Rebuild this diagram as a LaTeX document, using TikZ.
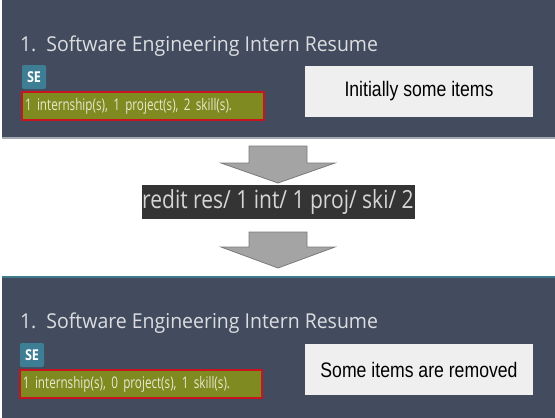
\documentclass[tikz,border=0pt]{standalone}
\usepackage{fontspec}
\usetikzlibrary{positioning,calc}
\newfontfamily\uifont[FakeStretch=0.84]{Open Sans}
\newfontfamily\titlefont[FakeStretch=0.95]{Open Sans}
\newfontfamily\countfont[FakeStretch=0.73]{Open Sans}
\newfontfamily\notefont[FakeStretch=0.84]{Liberation Sans}
\definecolor{panelbg}{HTML}{434C5E}
\definecolor{panelrim}{HTML}{A4A9B2}
\definecolor{paneltop}{HTML}{3D7A8C}
\definecolor{titlefg}{HTML}{DCDDE0}
\definecolor{tagbg}{HTML}{3E7E94}
\definecolor{countbg}{HTML}{7F8A20}
\definecolor{countfg}{HTML}{E8E8D0}
\definecolor{countrim}{HTML}{C8141E}
\definecolor{notebg}{HTML}{EFEFEF}
\definecolor{cmdbg}{HTML}{343434}
\definecolor{cmdfg}{HTML}{D6D6D6}
\definecolor{arrowbg}{HTML}{A4A4A4}
\definecolor{arrowrim}{HTML}{7A7A7A}

\begin{document}
\begin{tikzpicture}[x=1pt,y=-1pt,
    every node/.style={inner sep=0pt,outer sep=0pt},
    panel/.style={fill=panelbg,anchor=north west,minimum width=553pt},
    title/.style={anchor=base west,text=titlefg,font=\titlefont\fontsize{20.5}{24}\selectfont},
    tag/.style={fill=tagbg,rounded corners=2pt,anchor=north west,minimum width=24pt,
      minimum height=24pt,text=white,font=\uifont\bfseries\fontsize{15}{17}\selectfont},
    counts/.style={fill=countbg,draw=countrim,line width=1.6pt,minimum height=28pt,
      inner xsep=3pt,text width=236pt,align=left,text=countfg,
      font=\countfont\fontsize{16}{19}\selectfont},
    note/.style={fill=notebg,anchor=north west,minimum width=228pt,minimum height=51pt,
      font=\notefont\fontsize{21}{24}\selectfont},
    cmd/.style={fill=cmdbg,minimum width=273pt,minimum height=34pt,text=cmdfg,
      font=\uifont\fontsize{25}{28}\selectfont},
    blockarrow/.style={fill=arrowbg,draw=arrowrim,line width=0.8pt,line join=miter}]
  \useasboundingbox (0,0) rectangle (555,418);

  % before
  \node[panel,minimum height=138pt] (top) at (2,0) {};
  \draw[panelrim,line width=1.5pt] (top.south west) -- (top.south east);
  \node[title] (title1) at (20,51) {1.\ \ Software Engineering Intern Resume};
  \node[tag] (tag1) at (22,65) {SE};
  \node[counts,below right=3pt and 0pt of tag1.south west] (counts1) {\mbox{1 internship(s), 1 project(s), 2 skill(s).}};
  \node[note] (note1) at (305,66) {Initially some items};

  % command
  \node[cmd] (cmd) at (278,202) {redit res/ 1 int/ 1 proj/ ski/ 2};

  % after
  \node[panel,minimum height=141pt] (bottom) at (2,277) {};
  \draw[paneltop,line width=2pt] (bottom.north west) -- (bottom.north east);
  \node[title] (title2) at (20,328) {1.\ \ Software Engineering Intern Resume};
  \node[tag] (tag2) at (20,343) {SE};
  \node[counts,below right=3pt and 0pt of tag2.south west] (counts2) {\mbox{1 internship(s), 0 project(s), 1 skill(s).}};
  \node[note] (note2) at (305,344) {Some items are removed};

  \draw[blockarrow] ($(top.south)+(-29.5,8)$) -- ++(58,0) -- ++(0,17) -- ++(28,0)
    -- ($(cmd.north)+(0,-2)$) -- ++(-57,-20) -- ++(28,0) -- cycle;
  \draw[blockarrow] ($(cmd.south)+(-29,13)$) -- ++(58,0) -- ++(0,15) -- ++(28,0)
    -- ($(bottom.north)+(-0.5,-9)$) -- ++(-57,-21) -- ++(28,0) -- cycle;
\end{tikzpicture}
\end{document}
